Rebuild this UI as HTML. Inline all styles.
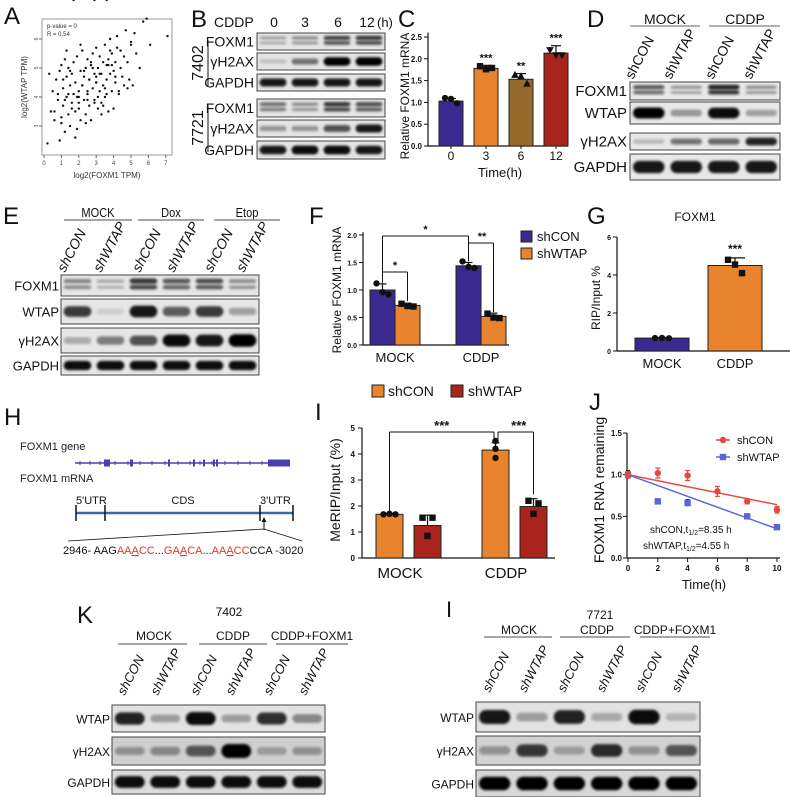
<!DOCTYPE html>
<html><head><meta charset="utf-8">
<style>
html,body{margin:0;padding:0;background:#fff;}
svg{display:block;font-family:"Liberation Sans",Arial,sans-serif;}
</style></head>
<body>
<svg id="fig" width="790" height="797" viewBox="0 0 790 797" xmlns="http://www.w3.org/2000/svg">
<defs>
<filter id="blur" x="-20%" y="-50%" width="140%" height="200%"><feGaussianBlur stdDeviation="1.3"/></filter>
</defs>
</svg>
<script>
// ---------- DATA ----------
// Panel A scatter (log2 TPM)
const aX=[0.2,0.4,0.5,0.6,0.7,0.8,0.9,0.9,1.0,1.0,1.1,1.1,1.2,1.2,1.3,1.3,1.4,1.4,1.5,1.5,1.6,1.6,1.7,1.7,1.8,1.8,1.9,1.9,2.0,2.0,2.1,2.1,2.2,2.2,2.3,2.3,2.4,2.4,2.5,2.5,2.6,2.6,2.7,2.7,2.8,2.8,2.9,2.9,3.0,3.0,3.1,3.1,3.2,3.2,3.3,3.3,3.4,3.4,3.5,3.5,3.6,3.6,3.7,3.7,3.8,3.8,3.9,3.9,4.0,4.0,4.1,4.1,4.2,4.2,4.3,4.4,4.5,4.6,4.7,4.8,4.9,5.0,5.1,5.2,5.3,5.5,5.7,5.9,6.1,7.1,0.3,0.8,1.0,1.3,1.6,1.9,2.1,2.4,2.6,2.9,3.1,3.3,3.6,3.9,4.1,4.4,4.8,5.0,1.2,1.5,1.8,2.2,2.5,2.8,3.2,3.5,3.8,4.3,0.6,1.1,1.4,2.0,2.3,2.7,3.0,3.4,3.7,4.6,2.0,2.5,3.0,1.7,2.9,3.6];
const aY=[2.4,3.5,4.2,3.2,4.6,3.9,2.5,4.9,3.1,5.1,4.3,3.7,5.3,2.8,4.0,4.7,3.4,5.0,4.4,3.0,4.8,3.8,5.2,4.1,3.5,4.5,5.4,2.9,4.2,3.6,4.9,3.2,4.4,5.6,3.9,4.7,3.4,5.0,4.1,5.3,3.7,4.6,5.1,3.2,4.3,5.5,3.9,4.8,4.5,5.7,3.6,5.0,4.2,5.4,4.8,3.8,5.2,4.4,4.0,5.8,4.6,5.1,3.5,5.3,4.8,6.0,4.2,5.5,4.9,3.6,5.2,4.5,5.7,6.1,4.1,5.0,4.7,5.4,6.3,5.2,4.6,5.8,4.4,6.2,5.5,5.0,6.6,6.7,5.8,6.1,4.8,4.1,3.3,5.6,3.6,4.0,5.8,3.1,4.6,3.8,4.0,3.4,4.1,5.1,4.7,5.6,4.3,5.9,3.9,4.9,2.6,4.4,3.9,5.0,4.8,4.3,5.6,4.2,3.5,4.6,4.1,3.8,4.9,5.2,4.7,3.7,5.1,4.4,4.0,4.2,4.5];
// Panel C
const cCats=['0','3','6','12'];
const cVals=[1.03,1.78,1.53,2.13];
const cErr=[0.06,0.07,0.13,0.17];
const cPts=[[1.10,1.08,0.98],[1.83,1.76,1.79],[1.63,1.60,1.43],[2.20,2.08,2.08]];
const cTicks=[0,0.5,1.0,1.5,2.0,2.5];
// Panel F
const fCats=['MOCK','CDDP'];
const fShCON=[1.0,1.44];
const fShCONErr=[0.11,0.06];
const fShWTAP=[0.72,0.52];
const fShWTAPErr=[0.04,0.06];
const fPtsCON=[[1.12,0.96,0.92],[1.52,1.42,1.40]];
const fPtsWTAP=[[0.75,0.71,0.70],[0.57,0.50,0.49]];
const fTicks=[0,0.5,1.0,1.5,2.0];
// Panel G
const gCats=['MOCK','CDDP'];
const gVals=[0.68,4.5];
const gErr=[0.03,0.4];
const gPts=[[0.68,0.69,0.67],[4.8,4.55,4.1]];
const gTicks=[0,2,4,6];
// Panel I
const iCats=['MOCK','CDDP'];
const iShCON=[1.68,4.15];
const iShCONErr=[0.03,0.28];
const iShWTAP=[1.25,1.98];
const iShWTAPErr=[0.4,0.3];
const iPtsCON=[[1.68,1.70,1.68],[4.5,4.2,3.85]];
const iPtsWTAP=[[1.55,1.55,0.85],[2.2,2.1,1.7]];
const iTicks=[0,1,2,3,4,5];
// Panel J
const jT=[0,2,4,6,8,10];
const jShCON=[1.0,1.02,0.99,0.80,0.68,0.58];
const jShCONErr=[0.04,0.06,0.06,0.06,0.03,0.04];
const jTW=[0,2,4,8,10];
const jShWTAP=[1.0,0.68,0.66,0.50,0.37];
const jShWTAPErr=[0.05,0.02,0.04,0.02,0.02];
const jFitCON=[1.0,0.64];
const jFitWTAP=[1.0,0.35];
const jYTicks=[0,0.5,1.0,1.5];
const jXTicks=[0,2,4,6,8,10];

// ---------- HELPERS ----------
const NS='http://www.w3.org/2000/svg';
const svg=document.getElementById('fig');
function nm(e,name){
  
  
}
function mk(tag,attrs,name,parent){
  const e=document.createElementNS(NS,tag);
  for(const k in attrs) e.setAttribute(k,attrs[k]);
  nm(e,name);
  (parent||svg).appendChild(e);
  return e;
}
function grp(name){return mk('g',{},name);}
function txt(x,y,s,size,anchor,name,parent,extra){
  const a={x:x,y:y,'font-size':size,'text-anchor':anchor||'start',fill:'#111'};
  if(extra) for(const k in extra) a[k]=extra[k];
  const t=mk('text',a,name,parent);
  t.textContent=s;
  return t;
}
function line(x1,y1,x2,y2,name,parent,stroke,w){
  return mk('line',{x1:x1,y1:y1,x2:x2,y2:y2,stroke:stroke||'#111','stroke-width':w||1},name,parent);
}
function panelLabel(x,y,s){txt(x,y,s,24,'start','panel-label-'+s.toLowerCase());}
function blot(x,y,w,h,ints,name,parent,bg,dbl){
  const g=mk('g',{},name,parent);
  mk('rect',{x:x,y:y,width:w,height:h,fill:bg||'#e6e6e6',stroke:'#444','stroke-width':1},name+'-frame',g);
  const n=ints.length, lw=w/n;
  ints.forEach((v,i)=>{
    const cx=x+lw*(i+0.5);
    const rh=Math.max(2,h*(0.2+0.3*v));
    if(dbl){
      mk('rect',{x:cx-lw*0.42,y:y+h*0.3-rh*0.3,width:lw*0.84,height:rh*0.55,rx:3,fill:'#000',opacity:v*0.9,filter:'url(#blur)'},name+'-band-upper',g);
      mk('rect',{x:cx-lw*0.42,y:y+h*0.6-rh*0.3,width:lw*0.84,height:rh*0.5,rx:3,fill:'#000',opacity:v*0.8,filter:'url(#blur)'},name+'-band-lower',g);
    } else {
      mk('rect',{x:cx-lw*0.42,y:y+h/2-rh/2,width:lw*0.84,height:rh,rx:rh/2,fill:'#000',opacity:Math.min(1,v),filter:'url(#blur)'},name+'-band',g);
    }
  });
  return g;
}
function rotLabel(cx,bottom,s,size,italic,name,parent){
  const len=s.length*size*0.58;
  const x0=cx-len*0.25;
  return txt(x0,bottom,s,size,'start',name,parent,{transform:'rotate(-62 '+x0+' '+bottom+')','font-style':italic?'italic':'normal'});
}
function marker(shape,x,y,name,parent,color){
  const c=color||'#111';
  if(shape==='c') return mk('circle',{cx:x,cy:y,r:3.2,fill:c},name,parent);
  if(shape==='s') return mk('rect',{x:x-3.2,y:y-3.2,width:6.4,height:6.4,fill:c},name,parent);
  if(shape==='t') return mk('polygon',{points:(x)+','+(y-4)+' '+(x-3.8)+','+(y+3)+' '+(x+3.8)+','+(y+3),fill:c},name,parent);
  return mk('polygon',{points:(x)+','+(y+4)+' '+(x-3.8)+','+(y-3)+' '+(x+3.8)+','+(y-3),fill:c},name,parent);
}
function errBar(x,yTop,yMid,name,parent,cap){
  line(x,yMid,x,yTop,name,parent,'#111',1.2);
  line(x-(cap||5),yTop,x+(cap||5),yTop,name+'-cap',parent,'#111',1.2);
}

// ---------- PANEL A ----------
panelLabel(4,24,'A');
(function(){
  const g=grp('scatter-panel-a');
  const xA=v=>44+v*17.4, yA=v=>39+(6-v)*29;
  mk('rect',{x:42,y:19,width:130,height:136,fill:'none',stroke:'#999','stroke-width':1},'plot-frame',g);
  for(let v=0;v<=7;v++){line(xA(v),155,xA(v),158,'x-tick',g,'#666');txt(xA(v),165,String(v),6,'middle','x-tick-label',g,{fill:'#444'});}
  [3,4,5,6].forEach(v=>{line(39,yA(v),42,yA(v),'y-tick',g,'#666');txt(36,yA(v)+2,String(v),5,'middle','y-tick-label',g,{fill:'#444',transform:'rotate(-90 36 '+(yA(v))+')'});});
  txt(107,178,'log2(FOXM1 TPM)',8,'middle','x-axis-title',g,{fill:'#333'});
  txt(27,87,'log2(WTAP TPM)',8,'middle','y-axis-title',g,{fill:'#333',transform:'rotate(-90 27 87)'});
  txt(47,28,'p-value = 0',6,'start','p-value-text',g,{fill:'#333'});
  txt(47,36,'R = 0.54',6,'start','r-value-text',g,{fill:'#333'});
  aX.forEach((v,i)=>{mk('circle',{cx:xA(v),cy:yA(aY[i]),r:1.2,fill:'#111'},'scatter-point',g);});
})();

// ---------- PANEL B ----------
panelLabel(191,27,'B');
(function(){
  const g=grp('blot-panel-b');
  txt(214,27,'CDDP',14,'start','treatment-label',g);
  [['0',274],['3',305],['6',338],['12',367]].forEach(d=>txt(d[1],27,d[0],14,'middle','time-label',g));
  txt(377,27,'(h)',13,'start','hour-unit',g);
  const rows=[['FOXM1',33,17,[0.35,0.45,0.8,0.85],true],['γH2AX',53,17,[0.15,0.5,1,1],false],['GAPDH',74,17,[0.9,0.9,0.9,0.9],false],
              ['FOXM1',99,18,[0.6,0.45,0.85,0.75],true],['γH2AX',120,17,[0.35,0.35,0.65,0.9],false],['GAPDH',141,18,[0.9,0.95,0.95,0.9],false]];
  rows.forEach(r=>{txt(254,r[1]+r[2]/2+5,r[0],14,'end','row-label-'+r[0].toLowerCase(),g);blot(257,r[1],128,r[2],r[3],'blot-'+r[0].toLowerCase(),g,'#e4e4e4',r[4]);});
  line(208,40,208,86,'group-line-7402',g);
  line(208,105,208,152,'group-line-7721',g);
  txt(203,63,'7402',16,'middle','cell-line-7402',g,{transform:'rotate(-90 203 63)'});
  txt(203,128,'7721',16,'middle','cell-line-7721',g,{transform:'rotate(-90 203 128)'});
})();

// ---------- PANEL C ----------
panelLabel(398,27,'C');
(function(){
  const g=grp('bar-chart-c');
  const y=v=>146-v*43.6, xc=[451,486,521,556], colors=['#3a2a8f','#e8832e','#956a2a','#a8241d'], shp=['c','s','t','v'];
  line(428,y(2.6),428,146,'y-axis',g,'#111',1.2);
  line(428,146,568,146,'x-axis',g,'#111',1.2);
  cTicks.forEach(v=>{line(424,y(v),428,y(v),'y-tick',g);txt(422,y(v)+3,v.toFixed(1),8,'end','y-tick-label',g,{'font-weight':'bold'});});
  cVals.forEach((v,i)=>{
    errBar(xc[i],y(v+cErr[i]),y(v),'error-bar',g);
    mk('rect',{x:xc[i]-12,y:y(v),width:24,height:146-y(v),fill:colors[i],stroke:'#222','stroke-width':1},'bar-'+cCats[i]+'h',g);
    cPts[i].forEach((p,k)=>marker(shp[i],xc[i]+(k-1)*6,y(p),'data-point',g));
    line(xc[i],149,xc[i],146,'x-tick',g);
    txt(xc[i],160,cCats[i],12,'middle','x-tick-label',g);
  });
  [['***',1],['**',2],['***',3]].forEach(s=>txt(xc[s[1]],y(cVals[s[1]]+cErr[s[1]])-4,s[0],11,'middle','significance-stars',g,{'font-weight':'bold'}));
  txt(500,177,'Time(h)',13,'middle','x-axis-title',g);
  txt(409,96,'Relative FOXM1 mRNA',12,'middle','y-axis-title',g,{transform:'rotate(-90 409 96)'});
})();

// ---------- PANEL D ----------
panelLabel(587,27,'D');
(function(){
  const g=grp('blot-panel-d');
  txt(665,24,'MOCK',14,'middle','group-mock',g);txt(745,24,'CDDP',14,'middle','group-cddp',g);
  line(630,26,700,26,'group-line-mock',g,'#999',1.5);line(709,26,780,26,'group-line-cddp',g,'#999',1.5);
  ['shCON','shWTAP','shCON','shWTAP'].forEach((s,i)=>rotLabel([643,683,723,763][i],80,s,14,false,'lane-label-'+s.toLowerCase(),g));
  const rows=[['FOXM1',82,18,[0.7,0.4,0.95,0.45],true],['WTAP',102,22,[1,0.35,0.95,0.3],false],['γH2AX',133,17,[0.2,0.5,0.55,0.85],false],['GAPDH',154,26,[0.9,0.9,0.9,0.9],false]];
  rows.forEach(r=>{txt(627,r[1]+r[2]/2+5,r[0],15,'end','row-label-'+r[0].toLowerCase(),g);blot(630,r[1],150,r[2],r[3],'blot-'+r[0].toLowerCase(),g,'#e8e8e8',r[4]);});
})();

// ---------- PANEL E ----------
panelLabel(3,224,'E');
(function(){
  const g=grp('blot-panel-e');
  [['MOCK',98,64,132],['Dox',171,138,204],['Etop',247,214,280]].forEach(h=>{txt(h[1],217,h[0],13,'middle','group-'+h[0].toLowerCase(),g,{transform:'scale(0.85 1) translate('+(h[1]*0.1765)+' 0)'});line(h[2],220,h[3],220,'group-line-'+h[0].toLowerCase(),g,'#888',1.5);});
  ['shCON','shWTAP','shCON','shWTAP','shCON','shWTAP'].forEach((s,i)=>rotLabel([75,113,150,186,222,256][i],273,s,14,true,'lane-label-'+s.toLowerCase(),g));
  const rows=[['FOXM1',275,21,[0.5,0.3,0.85,0.7,0.75,0.45],true],['WTAP',299,25,[0.75,0.1,0.9,0.6,0.75,0.3],false],['γH2AX',328,25,[0.25,0.45,0.65,0.95,0.9,1],false],['GAPDH',356,19,[0.95,0.95,0.95,0.95,0.95,0.95],false]];
  rows.forEach(r=>{txt(59,r[1]+r[2]/2+5,r[0],13,'end','row-label-'+r[0].toLowerCase(),g);blot(61,r[1],198,r[2],r[3],'blot-'+r[0].toLowerCase(),g,'#e6e6e6',r[4]);});
})();

// ---------- PANEL F ----------
panelLabel(309,224,'F');
(function(){
  const g=grp('bar-chart-f');
  const y=v=>345-v*55, gc=[395,481];
  line(363,y(2.05),363,345,'y-axis',g,'#111',1.2);
  line(363,345,509,345,'x-axis',g,'#111',1.2);
  fTicks.forEach(v=>{line(359,y(v),363,y(v),'y-tick',g);txt(357,y(v)+3,v.toFixed(1),7,'end','y-tick-label',g,{'font-weight':'bold'});});
  fCats.forEach((c,i)=>{
    const x1=gc[i]-25,x2=gc[i];
    errBar(x1+12.5,y(fShCON[i]+fShCONErr[i]),y(fShCON[i]),'error-bar',g,4);
    errBar(x2+12.5,y(fShWTAP[i]+fShWTAPErr[i]),y(fShWTAP[i]),'error-bar',g,4);
    mk('rect',{x:x1,y:y(fShCON[i]),width:25,height:345-y(fShCON[i]),fill:'#3a2a8f',stroke:'#222'},'bar-'+c.toLowerCase()+'-shcon',g);
    mk('rect',{x:x2,y:y(fShWTAP[i]),width:25,height:345-y(fShWTAP[i]),fill:'#e8832e',stroke:'#222'},'bar-'+c.toLowerCase()+'-shwtap',g);
    fPtsCON[i].forEach((p,k)=>marker('c',x1+12.5+(k-1)*6,y(p),'data-point',g));
    fPtsWTAP[i].forEach((p,k)=>marker('s',x2+12.5+(k-1)*6,y(p),'data-point',g));
    txt(gc[i],362,c,13,'middle','x-tick-label',g);
  });
  const cA=gc[0]-12.5,wA=gc[0]+12.5,cB=gc[1]-12.5,wB=gc[1]+12.5;
  line(cA,236,cB,236,'bracket-top',g);line(cA,236,cA,y(1.12),'bracket-top',g);line(cB,236,cB,y(1.52),'bracket-top',g);
  txt((cA+cB)/2,233,'*',11,'middle','significance-stars',g,{'font-weight':'bold'});
  line(cB,243,wB,243,'bracket-cddp',g);line(wB,243,wB,y(0.6),'bracket-cddp',g);
  txt((cB+wB)/2+1,240,'**',11,'middle','significance-stars',g,{'font-weight':'bold'});
  line(cA,272,wA,272,'bracket-mock',g);line(wA,272,wA,y(0.8),'bracket-mock',g);
  txt((cA+wA)/2,269,'*',11,'middle','significance-stars',g,{'font-weight':'bold'});
  txt(341,290,'Relative FOXM1 mRNA',12,'middle','y-axis-title',g,{transform:'rotate(-90 341 290)'});
  const lg=mk('g',{},'legend',g);
  mk('rect',{x:521,y:231,width:11,height:11,fill:'#3a2a8f',stroke:'#222'},'legend-swatch-shcon',lg);
  txt(537,241,'shCON',13,'start','legend-entry-shcon',lg);
  mk('rect',{x:521,y:248,width:11,height:11,fill:'#e8832e',stroke:'#222'},'legend-swatch-shwtap',lg);
  txt(537,258,'shWTAP',13,'start','legend-entry-shwtap',lg);
})();

// ---------- PANEL G ----------
panelLabel(587,224,'G');
(function(){
  const g=grp('bar-chart-g');
  const y=v=>351-v*19, xc=[662,735], cols=['#3a2a8f','#e8832e'];
  txt(695,221,'FOXM1',12,'middle','chart-title',g);
  line(617,y(6),617,351,'y-axis',g,'#111',1.2);
  line(617,351,790,351,'x-axis',g,'#111',1.2);
  gTicks.forEach(v=>{line(613,y(v),617,y(v),'y-tick',g);txt(611,y(v)+3,String(v),7,'end','y-tick-label',g,{'font-weight':'bold'});});
  gVals.forEach((v,i)=>{
    errBar(xc[i],y(v+gErr[i]),y(v),'error-bar',g,10);
    mk('rect',{x:xc[i]-27,y:y(v),width:54,height:351-y(v),fill:cols[i],stroke:'#222'},'bar-'+gCats[i].toLowerCase(),g);
    gPts[i].forEach((p,k)=>marker(i?'s':'c',xc[i]+(k-1)*7,y(p),'data-point',g));
    txt(xc[i],368,gCats[i],13,'middle','x-tick-label',g);
  });
  txt(xc[1],y(gVals[1]+gErr[1])-5,'***',12,'middle','significance-stars',g,{'font-weight':'bold'});
  txt(600,298,'RIP/Input %',12,'middle','y-axis-title',g,{transform:'rotate(-90 600 298)'});
})();

// ---------- PANEL H ----------
panelLabel(4,425,'H');
(function(){
  const g=grp('gene-diagram-h');
  txt(20,450,'FOXM1 gene',11,'start','gene-label',g,{fill:'#222'});
  line(75,463,290,463,'gene-line',g,'#4a3fb0',1.5);
  [80,90,100,115,128,140,152,165,178,190,200,212,225,238,250,262,275].forEach(x=>line(x,461,x,465,'intron-tick',g,'#4a3fb0',1));
  [[104,6],[130,3],[168,2],[193,2],[203,2],[213,2],[216,2],[268,7],[275,15]].forEach(e=>mk('rect',{x:e[0],y:459.5,width:e[1],height:7,fill:'#4a3fb0'},'exon',g));
  txt(20,482,'FOXM1 mRNA',11,'start','mrna-label',g,{fill:'#222'});
  txt(76,504,"5'UTR",11,'start','utr5-label',g);
  txt(183,504,'CDS',11,'middle','cds-label',g);
  txt(260,504,"3'UTR",11,'start','utr3-label',g);
  line(76,513,293,513,'mrna-line',g,'#3c6aa8',2.5);
  [76,105,260,293].forEach(x=>line(x,505,x,521,'region-boundary',g,'#111',1.5));
  line(264,530,264,519,'site-arrow',g,'#111',1);
  mk('polygon',{points:'264,517 261.5,522 266.5,522',fill:'#111'},'site-arrowhead',g);
  line(68,541,264,529,'zoom-line-left',g,'#111',0.8);
  line(264,529,302,541,'zoom-line-right',g,'#111',0.8);
  const t=txt(63,554,'',11,'start','motif-sequence',g);
  [['2946- AAG','#111'],['AA','#e8342a'],['A','#e8342a',1],['CC','#e8342a'],['...','#111'],['GA','#e8342a'],['A','#e8342a',1],['CA','#e8342a'],['...','#111'],['AA','#e8342a'],['A','#e8342a',1],['CC','#e8342a'],['CCA -3020','#111']].forEach(p=>{
    const s=document.createElementNS(NS,'tspan');
    s.setAttribute('fill',p[1]);
    if(p[2]) s.setAttribute('text-decoration','underline');
    s.textContent=p[0];
    nm(s,'sequence-segment');
    t.appendChild(s);
  });
})();

// ---------- PANEL I ----------
txt(315,420,'I',24,'start','panel-label-i');
(function(){
  const g=grp('bar-chart-i');
  const y=v=>558-v*26, gc=[408,514];
  const lg=mk('g',{},'legend',g);
  mk('rect',{x:372,y:385,width:12,height:12,fill:'#e8832e',stroke:'#222'},'legend-swatch-shcon',lg);
  txt(388,396,'shCON',14,'start','legend-entry-shcon',lg);
  mk('rect',{x:451,y:385,width:12,height:12,fill:'#a8241d',stroke:'#222'},'legend-swatch-shwtap',lg);
  txt(468,396,'shWTAP',14,'start','legend-entry-shwtap',lg);
  line(362,y(5),362,558,'y-axis',g,'#111',1.2);
  line(362,558,555,558,'x-axis',g,'#111',1.2);
  iTicks.forEach(v=>{line(358,y(v),362,y(v),'y-tick',g);txt(355,y(v)+3,String(v),8,'end','y-tick-label',g,{'font-weight':'bold'});});
  iCats.forEach((c,i)=>{
    const x1=gc[i]-32,x2=gc[i]+6;
    errBar(x1+13.5,y(iShCON[i]+iShCONErr[i]),y(iShCON[i]),'error-bar',g,4);
    errBar(x2+13.5,y(iShWTAP[i]+iShWTAPErr[i]),y(iShWTAP[i]),'error-bar',g,4);
    mk('rect',{x:x1,y:y(iShCON[i]),width:27,height:558-y(iShCON[i]),fill:'#e8832e',stroke:'#222'},'bar-'+c.toLowerCase()+'-shcon',g);
    mk('rect',{x:x2,y:y(iShWTAP[i]),width:27,height:558-y(iShWTAP[i]),fill:'#a8241d',stroke:'#222'},'bar-'+c.toLowerCase()+'-shwtap',g);
    iPtsCON[i].forEach((p,k)=>marker('c',x1+13.5+(i?0:(k-1)*6),y(p),'data-point',g));
    iPtsWTAP[i].forEach((p,k)=>marker('s',x2+13.5+(k===2?0:(k?5:-5)),y(p),'data-point',g));
    txt(gc[i]-8,578,c,15,'middle','x-tick-label',g);
  });
  const a=gc[0]-18.5,b=gc[1]-20,c2=gc[1]-16,d=gc[1]+19.5;
  line(a,432,b,432,'bracket-shcon',g);line(a,432,a,y(1.75),'bracket-shcon',g);line(b,432,b,y(4.55),'bracket-shcon',g);
  txt((a+b)/2,430,'***',13,'middle','significance-stars',g,{'font-weight':'bold'});
  line(c2,432,d,432,'bracket-cddp',g);line(c2,432,c2,y(4.55),'bracket-cddp',g);line(d,432,d,y(2.45),'bracket-cddp',g);
  txt((c2+d)/2+3,430,'***',13,'middle','significance-stars',g,{'font-weight':'bold'});
  txt(340,490,'MeRIP/Input (%)',14,'middle','y-axis-title',g,{transform:'rotate(-90 340 490)'});
})();

// ---------- PANEL J ----------
panelLabel(589,410,'J');
(function(){
  const g=grp('line-chart-j');
  const x=t=>628+t*14.9, y=v=>558-v*83.3;
  line(627,y(1.5),627,558,'y-axis',g,'#111',1.2);
  line(627,558,780,558,'x-axis',g,'#111',1.2);
  jYTicks.forEach(v=>{line(623,y(v),627,y(v),'y-tick',g);txt(622,y(v)+3,v.toFixed(1),8,'end','y-tick-label',g,{'font-weight':'bold'});});
  jXTicks.forEach(t=>{line(x(t),558,x(t),562,'x-tick',g);txt(x(t),571,String(t),8,'middle','x-tick-label',g,{'font-weight':'bold'});});
  txt(704,589,'Time(h)',13,'middle','x-axis-title',g);
  txt(604,490,'FOXM1 RNA remaining',14,'middle','y-axis-title',g,{transform:'rotate(-90 604 490)'});
  line(x(0),y(jFitCON[0]),x(10),y(jFitCON[1]),'fit-line-shcon',g,'#e8473f',1.5);
  line(x(0),y(jFitWTAP[0]),x(10),y(jFitWTAP[1]),'fit-line-shwtap',g,'#5b66d6',1.5);
  jTW.forEach((t,i)=>{errBar(x(t),y(jShWTAP[i]+jShWTAPErr[i]),y(jShWTAP[i]-jShWTAPErr[i]),'error-bar-shwtap',g,2);marker('s',x(t),y(jShWTAP[i]),'point-shwtap',g,'#5b66d6');});
  jT.forEach((t,i)=>{
    line(x(t),y(jShCON[i]+jShCONErr[i]),x(t),y(jShCON[i]-jShCONErr[i]),'error-bar-shcon',g,'#e8473f',1.2);
    line(x(t)-2.5,y(jShCON[i]+jShCONErr[i]),x(t)+2.5,y(jShCON[i]+jShCONErr[i]),'error-cap-shcon',g,'#e8473f',1.2);
    line(x(t)-2.5,y(jShCON[i]-jShCONErr[i]),x(t)+2.5,y(jShCON[i]-jShCONErr[i]),'error-cap-shcon',g,'#e8473f',1.2);
    marker('c',x(t),y(jShCON[i]),'point-shcon',g,'#e8473f');
  });
  const lg=mk('g',{},'legend',g);
  line(716,440,730,440,'legend-line-shcon',lg,'#e8473f',1.5);marker('c',723,440,'legend-marker-shcon',lg,'#e8473f');
  txt(737,444,'shCON',11,'start','legend-entry-shcon',lg);
  line(716,457,730,457,'legend-line-shwtap',lg,'#5b66d6',1.5);marker('s',723,457,'legend-marker-shwtap',lg,'#5b66d6');
  txt(737,461,'shWTAP',11,'start','legend-entry-shwtap',lg);
  const a1=txt(650,533,'shCON,t',10,'start','half-life-shcon',g);
  let s=document.createElementNS(NS,'tspan');s.setAttribute('font-size','7');s.setAttribute('dy','2');s.textContent='1/2';nm(s,'subscript');a1.appendChild(s);
  s=document.createElementNS(NS,'tspan');s.setAttribute('dy','-2');s.textContent='=8.35 h';nm(s,'half-life-value');a1.appendChild(s);
  const a2=txt(643,549,'shWTAP,t',10,'start','half-life-shwtap',g);
  s=document.createElementNS(NS,'tspan');s.setAttribute('font-size','7');s.setAttribute('dy','2');s.textContent='1/2';nm(s,'subscript');a2.appendChild(s);
  s=document.createElementNS(NS,'tspan');s.setAttribute('dy','-2');s.textContent='=4.55 h';nm(s,'half-life-value');a2.appendChild(s);
})();

// ---------- PANEL K ----------
panelLabel(77,623,'K');
(function(){
  const g=grp('blot-panel-k');
  txt(229,616,'7402',12,'middle','cell-line-7402',g);
  [['MOCK',154,118,187],['CDDP',233,199,267],['CDDP+FOXM1',312,276,348]].forEach(h=>{txt(h[1],640,h[0],12,'middle','group-'+h[0].toLowerCase(),g);line(h[2],644,h[3],644,'group-line',g,'#888',1.5);});
  ['shCON','shWTAP','shCON','shWTAP','shCON','shWTAP'].forEach((s,i)=>rotLabel([134,169,207,244,280,317][i],696,s,13,true,'lane-label-'+s.toLowerCase(),g));
  const rows=[['WTAP',705,27,[0.85,0.3,0.95,0.3,0.8,0.4],'#e2e2e2'],['γH2AX',737,28,[0.3,0.35,0.6,1,0.25,0.3],'#cfcfcf'],['GAPDH',770,24,[0.95,0.95,0.95,0.95,0.95,0.95],'#dcdcdc']];
  rows.forEach(r=>{txt(110,r[1]+r[2]/2+5,r[0],12,'end','row-label-'+r[0].toLowerCase(),g);blot(112,r[1],213,r[2],r[3],'blot-'+r[0].toLowerCase(),g,r[4]);});
})();

// ---------- PANEL L (labelled I) ----------
txt(446,617,'I',22,'start','panel-label-l');
(function(){
  const g=grp('blot-panel-l');
  txt(600,619,'7721',12,'middle','cell-line-7721',g);
  [['MOCK',519,484,552],['CDDP',597,560,630],['CDDP+FOXM1',675,640,710]].forEach(h=>{txt(h[1],634,h[0],12,'middle','group-'+h[0].toLowerCase(),g);line(h[2],637,h[3],637,'group-line',g,'#888',1.5);});
  ['shCON','shWTAP','shCON','shWTAP','shCON','shWTAP'].forEach((s,i)=>rotLabel([499,537,574,615,652,690][i],693,s,13,true,'lane-label-'+s.toLowerCase(),g));
  const rows=[['WTAP',702,30,[0.9,0.3,0.85,0.25,0.95,0.2],'#e2e2e2'],['γH2AX',736,29,[0.3,0.75,0.25,0.8,0.3,0.6],'#d2d2d2'],['GAPDH',770,27,[1,1,1,1,1,1],'#d8d8d8']];
  rows.forEach(r=>{txt(474,r[1]+r[2]/2+5,r[0],12,'end','row-label-'+r[0].toLowerCase(),g);blot(476,r[1],224,r[2],r[3],'blot-'+r[0].toLowerCase(),g,r[4]);});
})();
</script>
</body></html>
